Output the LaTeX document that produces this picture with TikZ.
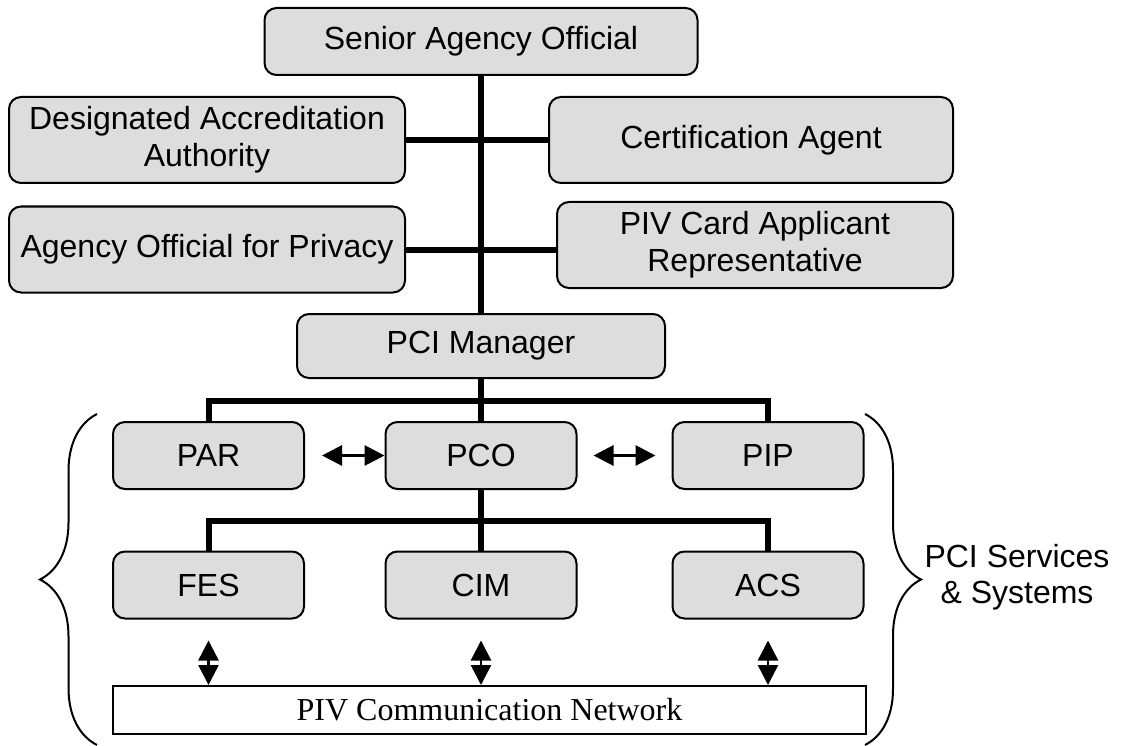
\documentclass[tikz,border=0pt]{standalone}
\usepackage{fontspec}
\setmainfont{Liberation Sans}
\newfontfamily\netfont{Liberation Serif}
\usetikzlibrary{arrows.meta,decorations.pathreplacing}
\definecolor{boxgray}{RGB}{221,221,221}
\begin{document}
\begin{tikzpicture}[x=1pt,y=-1pt,
    role/.style={draw,line width=2pt,fill=boxgray,rounded corners=12pt,
      inner sep=0pt,align=center,font=\fontsize{32}{37}\selectfont},
    wide/.style={role,minimum width=396pt,minimum height=86pt},
    unit/.style={role,minimum width=191pt,minimum height=67pt},
    dblarrow/.style={{Triangle[length=20pt,width=20pt]}-{Triangle[length=20pt,width=20pt]},line width=3pt},
    bracket/.style={decorate,decoration={brace,amplitude=57pt},line width=2pt}]
  \useasboundingbox (0,0) rectangle (1121,746);
  \draw
    (481,41.5) node[role,minimum width=433pt,minimum height=67pt] (sao){Senior Agency Official}
    (207,140) node[wide] (daa){Designated Accreditation\\Authority}
    (751,140) node[wide,minimum width=404pt] (ca){Certification Agent}
    (207,249.5) node[wide] (aop){Agency Official for Privacy}
    (755,245) node[wide] (pcar){PIV Card Applicant\\Representative}
    (481,346) node[role,minimum width=368pt,minimum height=64pt] (pcim){PCI Manager}
    (208.5,455.5) node[unit] (par){PAR}
    (481,455.5) node[unit] (pco){PCO}
    (768,455.5) node[unit] (pip){PIP}
    (208.5,585) node[unit] (fes){FES}
    (481,585) node[unit] (cim){CIM}
    (768,585) node[unit] (acs){ACS}
    (489.5,710) node[draw,line width=2pt,fill=white,minimum width=753pt,minimum height=48pt,
      inner sep=0pt,font=\netfont\fontsize{32}{37}\selectfont] (net){PIV Communication Network}
    (1017,577) node[align=center,font=\fontsize{32}{36}\selectfont] (pcs){PCI Services\\\& Systems};
  \coordinate (j1) at (481,401);
  \coordinate (j2) at (481,521);
  \begin{scope}[line width=6pt]
    \draw (sao.south) -- (sao.south |- pcim.north);
    \draw (daa.east) -- (ca.west);
    \draw (aop.east) -- (aop.east -| pcar.west);
    \draw (pcim.south) -- (j1) -- (pco.north);
    \draw (par.north) |- (j1) -| (pip.north);
    \draw (pco.south) -- (j2) -- (cim.north);
    \draw (fes.north) |- (j2) -| (acs.north);
  \end{scope}
  \begin{scope}[dblarrow]
    \draw[shorten <=17pt] (par.east) -- (pco.west);
    \draw[shorten <=16pt,shorten >=16pt] (pco.east) -- (pip.west);
    \draw[shorten <=21pt,line width=2.5pt] (fes.south) -- (fes.south |- net.north);
    \draw[shorten <=21pt,line width=2.5pt] (cim.south) -- (cim.south |- net.north);
    \draw[shorten <=21pt,line width=2.5pt] (acs.south) -- (acs.south |- net.north);
  \end{scope}
  \draw[bracket] (97,745) -- (97,414);
  \draw[bracket,decoration={amplitude=56pt}] (865,414) -- (865,745);
\end{tikzpicture}
\end{document}
